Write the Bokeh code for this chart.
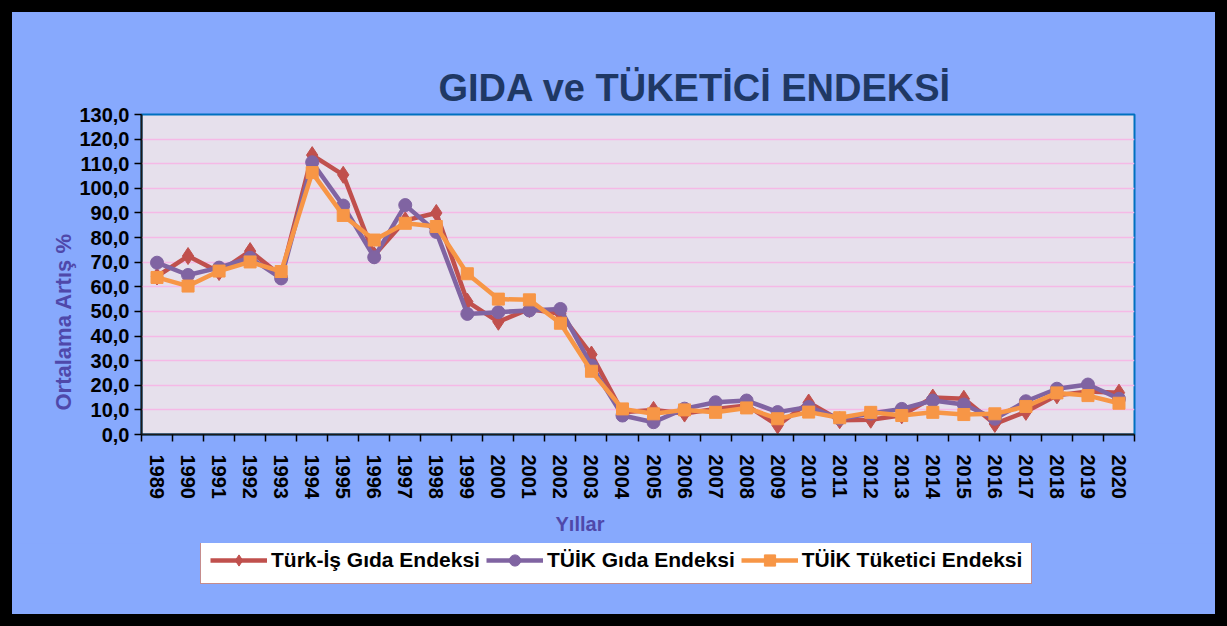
from bokeh.plotting import figure
from bokeh.layouts import column
from bokeh.models import (FixedTicker, Legend, LegendItem, Range1d,
                          CustomJSTickFormatter, Title)
from bokeh.embed import file_html
from bokeh.resources import INLINE

years = list(range(1989, 2021))
turkis_gida = [64.2, 72.5, 66.0, 74.5, 64.5, 113.5, 105.5, 72.8, 87.0, 90.0,
               54.0, 45.8, 51.0, 49.0, 32.5, 9.0, 10.0, 8.5, 10.4, 11.8,
               3.7, 13.0, 5.8, 6.0, 7.8, 15.0, 14.5, 4.3, 9.2, 15.9, 17.5, 17.0]
tuik_gida = [69.8, 64.8, 67.8, 71.8, 63.4, 110.6, 93.0, 72.0, 93.2, 82.3,
             49.0, 49.7, 50.4, 51.0, 28.0, 7.7, 5.0, 10.5, 13.1, 13.8,
             9.1, 11.2, 6.4, 8.5, 10.4, 13.8, 12.2, 6.4, 13.5, 18.6, 20.3, 14.5]
tuik_tufe = [63.8, 60.3, 66.4, 70.1, 66.2, 106.4, 89.0, 79.0, 85.8, 84.5,
             65.3, 55.0, 54.7, 45.2, 25.7, 10.4, 8.4, 10.0, 9.0, 10.8,
             6.4, 9.1, 6.8, 9.0, 7.7, 9.0, 8.1, 8.4, 11.4, 16.9, 15.8, 12.7]
y_ticks = list(range(0, 131, 10))
series_names = ["Türk-İş Gıda Endeksi", "TÜİK Gıda Endeksi", "TÜİK Tüketici Endeksi"]
series_values = [turkis_gida, tuik_gida, tuik_tufe]
series_colors = ["#C0504D", "#8064A2", "#F79646"]
series_markers = ["diamond", "circle", "square"]
marker_sizes = [17, 13, 12]

FONT = "Liberation Sans"
LABEL_COLOR = "#4F48AA"
PANEL = "#87A9FD"

p = figure(frame_width=993, frame_height=320, output_backend="svg", toolbar_location=None,
           x_range=Range1d(1988.5, 2020.5), y_range=Range1d(0, 130),
           min_border_left=129, min_border_right=81, min_border_top=102,
           min_border_bottom=105,
           background_fill_color="#E6E0EC", border_fill_color=PANEL,
           outline_line_color="#0070C0", outline_line_width=2,
           styles={"background-color": PANEL})

# title
p.title.text = "GIDA ve TÜKETİCİ ENDEKSİ"
p.title.align = "left"
p.title.offset = 297
p.title.standoff = 12
p.title.text_font = FONT
p.title.text_font_size = "38px"
p.title.text_font_style = "bold"
p.title.text_color = "#1F3864"

# x axis
p.xaxis.ticker = FixedTicker(ticks=years, minor_ticks=[y - 0.5 for y in years] + [2020.5])
p.xaxis.major_label_orientation = "vertical"
p.xaxis.major_tick_out = 0
p.xaxis.major_tick_in = 0
p.xaxis.minor_tick_out = 7
p.xaxis.minor_tick_in = 0
p.xaxis.minor_tick_line_color = "black"
p.xaxis.minor_tick_line_width = 1.5
p.xaxis.axis_line_color = "#1A1A1A"
p.xaxis.axis_line_width = 2
p.xaxis.major_label_standoff = 13
p.xaxis.major_label_text_font = FONT
p.xaxis.major_label_text_font_size = "20px"
p.xaxis.major_label_text_font_style = "bold"
p.xaxis.major_label_text_color = "black"

# y axis
p.yaxis.ticker = FixedTicker(ticks=y_ticks)
p.yaxis.formatter = CustomJSTickFormatter(code="return tick.toFixed(1).replace('.', ',');")
p.yaxis.major_tick_out = 7
p.yaxis.major_tick_in = 0
p.yaxis.minor_tick_out = 0
p.yaxis.minor_tick_in = 0
p.yaxis.major_tick_line_color = "black"
p.yaxis.major_tick_line_width = 1.5
p.yaxis.axis_line_color = "#1A1A1A"
p.yaxis.axis_line_width = 2
p.yaxis.major_label_standoff = 5
p.yaxis.major_label_text_font = FONT
p.yaxis.major_label_text_font_size = "20px"
p.yaxis.major_label_text_font_style = "bold"
p.yaxis.major_label_text_color = "black"

# axis titles as side-panel titles (positioned along the axis)
ytitle = Title(text="Ortalama Artış %", align="left", offset=24, standoff=2,
               text_font=FONT, text_font_size="22px", text_font_style="bold",
               text_color=LABEL_COLOR)
p.add_layout(ytitle, "left")
xtitle = Title(text="Yıllar", align="left", offset=414, standoff=18,
               text_font=FONT, text_font_size="20px", text_font_style="bold",
               text_color=LABEL_COLOR)
p.add_layout(xtitle, "below")

p.xgrid.visible = False
p.ygrid.ticker = FixedTicker(ticks=y_ticks)
p.ygrid.grid_line_color = "#F5B9E6"
p.ygrid.grid_line_width = 1.5

# series
for vals, col, mk, ms in zip(series_values, series_colors, series_markers, marker_sizes):
    p.line(years, vals, line_color=col, line_width=4.5)
    p.scatter(years, vals, marker=mk, size=ms, fill_color=col, line_color=col)

# legend strip (separate figure below the chart, same panel colour);
# its own copies of the series sit outside its visible range, only the legend shows
lg = figure(width=1203, height=71, output_backend="svg", toolbar_location=None,
            x_range=Range1d(0, 1), y_range=Range1d(0, 1),
            x_axis_type=None, y_axis_type=None, min_border=0,
            background_fill_color=PANEL, border_fill_color=PANEL,
            styles={"background-color": PANEL})
lg.outline_line_color = None
lg.outline_line_alpha = 0
lg.grid.visible = False
lg.title.visible = False
items = []
for name, vals, col, mk, ms in zip(series_names, series_values, series_colors,
                                   series_markers, marker_sizes):
    lr = lg.line(years, vals, line_color=col, line_width=4.5)
    sr = lg.scatter(years, vals, marker=mk, size=ms, fill_color=col, line_color=col)
    items.append(LegendItem(label=name, renderers=[lr, sr]))
legend = Legend(items=items, orientation="horizontal", location=(59, 30),
                background_fill_color="white", background_fill_alpha=1.0,
                border_line_color="#8B1A1A", border_line_width=1.5,
                label_text_font=FONT, label_text_font_size="21px",
                label_text_font_style="bold", label_text_color="black",
                glyph_width=57, glyph_height=28, spacing=6,
                padding=9, margin=0, label_standoff=4)
lg.add_layout(legend, "center")

page = column(p, lg, spacing=0,
              styles={"background-color": "#000000", "padding": "12px"})

open("out.html", "w").write(file_html(page, INLINE, title="GIDA ve TÜKETİCİ ENDEKSİ"))
